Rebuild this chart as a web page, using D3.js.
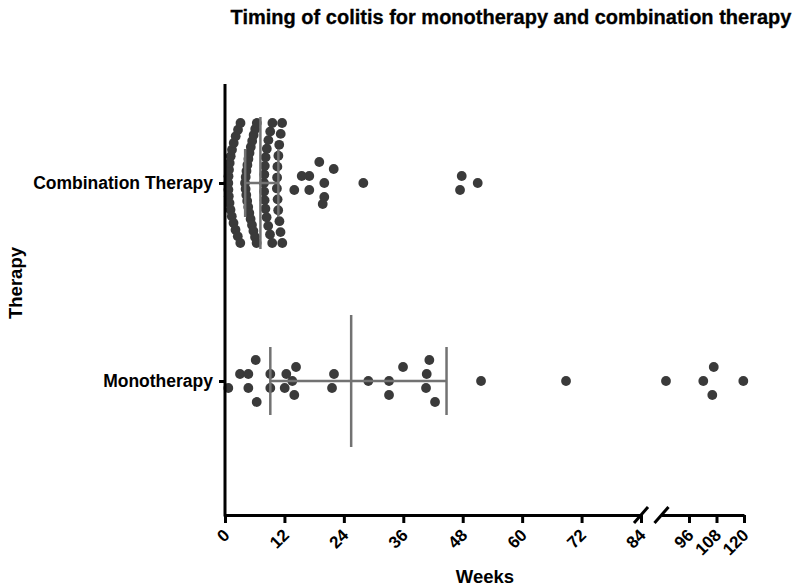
<!DOCTYPE html>
<html>
<head>
<meta charset="utf-8">
<script src="https://cdn.jsdelivr.net/npm/d3@7"></script>
<style>
  html, body { margin: 0; padding: 0; background: #fff; }
  svg { display: block; font-family: "Liberation Sans", Arial, sans-serif; }
</style>
</head>
<body>
<div id="chart"></div>
<script>
// ---------------- data ----------------
const categories = ["Combination Therapy", "Monotherapy"];
const ticksLow = [0, 12, 24, 36, 48, 60, 72, 84];
const ticksHigh = [96, 108, 120];

// weeks to colitis onset, combination therapy
const combinationWeeks = [
  0.67, 0.69, 0.71, 0.77, 0.81, 0.91, 0.95, 1.11, 1.15, 1.37, 1.41, 1.72, 1.76, 2.12, 2.16, 2.58, 2.63, 3.09, 3.13,
  4.04, 4.16, 4.18, 4.30, 4.34, 4.48, 4.52, 4.69, 4.73, 4.91, 4.95, 5.17, 5.21, 5.45, 5.49, 5.74, 5.78, 6.06, 6.10, 6.38, 6.42,
  7.88, 7.90, 7.94, 8.00, 8.04, 8.16, 8.20, 8.40, 8.44, 8.72, 8.76, 9.09, 9.13, 9.53, 9.57,
  10.48, 10.52, 10.58, 10.62, 10.74, 10.78, 10.95, 10.99, 11.21, 11.25, 11.53, 11.57,
  13.99, 15.49, 17.02, 17.02, 19.04, 19.73, 20.05, 20.05, 21.95, 27.93, 47.46, 47.80, 51.03
];

// weeks to colitis onset, monotherapy
const monotherapyWeeks = [
  0.67, 3.03, 4.71, 6.20, 4.71, 6.40, 9.15, 9.15, 12.06, 13.59, 14.34, 12.38, 13.99, 22.01, 21.61,
  28.94, 33.12, 33.12, 35.95, 41.26, 40.59, 40.73, 42.41, 51.70, 68.86, 85.96, 102.24, 106.17, 106.80, 119.70
];

// ---------------- layout ----------------
const W = 800, H = 587;
const axisY = 515, axisTop = 84;
const svg = d3.select("#chart").append("svg").attr("width", W).attr("height", H);
svg.append("rect").attr("width", W).attr("height", H).attr("fill", "#fff");

const xLow = d3.scaleLinear().domain([0, 84]).range([225, 641]);
const xHigh = d3.scaleLinear().domain([84, 120]).range([661.5, 744]);
const xPos = v => (v <= 84 ? xLow(v) : xHigh(v));
const y = d3.scalePoint().domain(categories).range([183, 381]);

const dotR = 4.9, dotColor = "#3a3a3a", lineColor = "#727272";

// Prism-like quantile ((n+1)p)
function quant(arr, p) {
  const s = arr.slice().sort((a, b) => a - b);
  const pos = (s.length + 1) * p;
  const lo = Math.floor(pos), hi = Math.ceil(pos);
  const a = s[Math.max(0, Math.min(s.length - 1, lo - 1))];
  const b = s[Math.max(0, Math.min(s.length - 1, hi - 1))];
  return a + (b - a) * (pos - lo);
}

// bin-based scatter spreading (center-out within each bin)
function spread(values, cy) {
  const binW = 16.3, origin = xLow(3.35), maxSpread = 120, step = 14;
  const pts = values.map(v => ({ v, x: xPos(v) })).sort((a, b) => a.v - b.v);
  const groups = d3.groups(pts, p => Math.floor((p.x - origin) / binW));
  const out = [];
  groups.forEach(([, g]) => {
    const n = g.length;
    const s = n > 1 ? Math.min(step, maxSpread / (n - 1)) : 0;
    g.forEach((p, i) => {
      let slot;
      if (n % 2 === 1) {
        if (i === 0) slot = 0;
        else { const j = Math.ceil(i / 2); slot = (i % 2 === 1 ? 1 : -1) * j; }
      } else {
        const j = Math.floor(i / 2);
        const first = (j % 2 === 0) ? 1 : -1;
        slot = (i % 2 === 0 ? first : -first) * (j + 0.5);
      }
      out.push({ x: p.x, y: cy + slot * s });
    });
  });
  return out;
}

const groupsData = [
  { cat: categories[0], values: combinationWeeks },
  { cat: categories[1], values: monotherapyWeeks }
];

// dots
groupsData.forEach(gd => {
  const pts = spread(gd.values, y(gd.cat));
  svg.append("g").selectAll("circle").data(pts).join("circle")
    .attr("cx", d => d.x).attr("cy", d => d.y).attr("r", dotR)
    .attr("fill", dotColor);
});

// median + IQR lines
groupsData.forEach(gd => {
  const cy = y(gd.cat);
  const q1 = quant(gd.values, 0.25), med = quant(gd.values, 0.5), q3 = quant(gd.values, 0.75);
  const g = svg.append("g").attr("stroke", lineColor).attr("stroke-width", 2.5);
  g.append("line").attr("x1", xPos(q1)).attr("x2", xPos(q3)).attr("y1", cy).attr("y2", cy);
  g.append("line").attr("x1", xPos(med)).attr("x2", xPos(med)).attr("y1", cy - 66).attr("y2", cy + 66);
  [q1, q3].forEach(q => g.append("line").attr("x1", xPos(q)).attr("x2", xPos(q)).attr("y1", cy - 34).attr("y2", cy + 34));
});

// x axis (two segments)
function styleX(g) {
  g.select(".domain").attr("stroke", "#000").attr("stroke-width", 3);
  g.selectAll(".tick line").attr("stroke", "#000").attr("stroke-width", 3);
  g.selectAll(".tick text")
    .attr("fill", "#000").attr("font-size", 17).attr("font-weight", "bold")
    .attr("text-anchor", "end").attr("x", 0).attr("y", 0).attr("dy", "0.35em")
    .attr("transform", "translate(1,17) rotate(-45)");
}
svg.append("g").attr("transform", `translate(0,${axisY})`)
  .call(d3.axisBottom(xLow).tickValues(ticksLow).tickSize(8).tickSizeOuter(0).tickFormat(d3.format("d")))
  .call(styleX);
svg.append("g").attr("transform", `translate(0,${axisY})`)
  .call(d3.axisBottom(xHigh).tickValues(ticksHigh).tickSize(8).tickSizeOuter(0).tickFormat(d3.format("d")))
  .call(styleX);

// break marks
[xLow(84), xHigh(84)].forEach(bx => {
  svg.append("line").attr("x1", bx - 7).attr("y1", axisY + 8).attr("x2", bx + 7).attr("y2", axisY - 8)
    .attr("stroke", "#000").attr("stroke-width", 3);
});

// y axis
svg.append("line").attr("x1", 225).attr("x2", 225).attr("y1", axisTop).attr("y2", axisY + 1.5)
  .attr("stroke", "#000").attr("stroke-width", 3);
const yAx = svg.append("g").attr("transform", "translate(225,0)")
  .call(d3.axisLeft(y).tickSize(6).tickSizeOuter(0).tickPadding(6));
yAx.select(".domain").remove();
yAx.selectAll(".tick line").attr("stroke", "#000").attr("stroke-width", 3);
yAx.selectAll(".tick text").attr("fill", "#000").attr("font-size", 17.5).attr("font-weight", "bold");

// titles
svg.append("text").attr("x", 511).attr("y", 24).attr("text-anchor", "middle")
  .attr("font-size", 20).attr("font-weight", "bold").attr("stroke", "#000").attr("stroke-width", 0.3)
  .text("Timing of colitis for monotherapy and combination therapy");
svg.append("text").attr("x", 485).attr("y", 583).attr("text-anchor", "middle")
  .attr("font-size", 18.5).attr("font-weight", "bold").text("Weeks");
svg.append("text").attr("transform", "translate(22,283) rotate(-90)").attr("text-anchor", "middle")
  .attr("font-size", 18.5).attr("font-weight", "bold").text("Therapy");
</script>
</body>
</html>
